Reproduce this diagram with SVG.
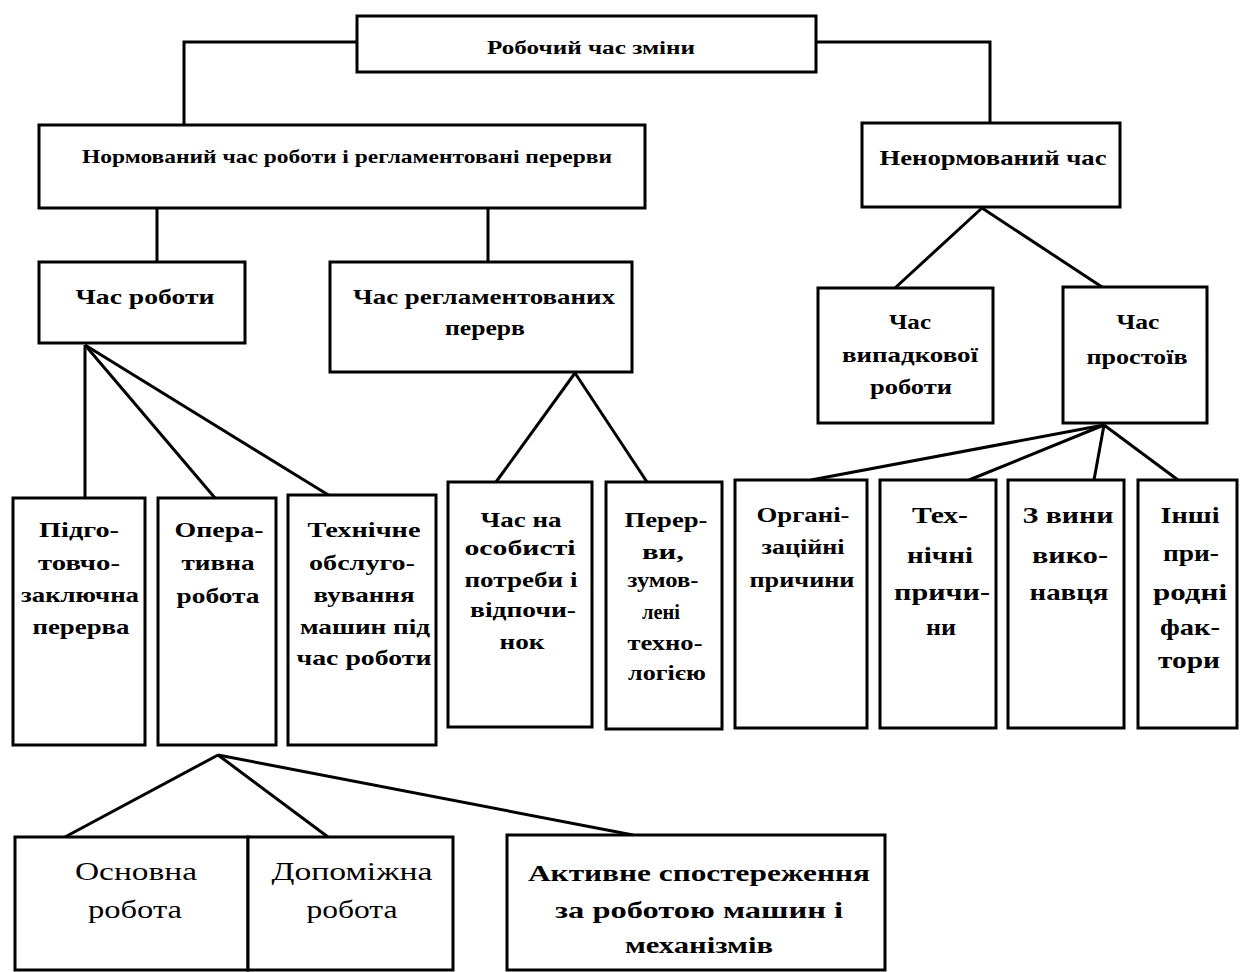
<svg xmlns="http://www.w3.org/2000/svg" width="1248" height="972" viewBox="0 0 1248 972">
<style>
rect.b{fill:#fff;stroke:#000;stroke-width:3}
.c line,.c polyline{stroke:#000;stroke-width:3;fill:none}
text{font-family:"Liberation Serif","Times New Roman",serif;font-weight:bold;fill:#000;text-anchor:middle}
.s19{font-size:19px}.s21{font-size:21px}.s22{font-size:22px}.s20{font-size:20px}.s23{font-size:23px}.s25{font-size:25px;font-weight:normal}.s24{font-size:24px}
</style>
<rect width="1248" height="972" fill="#fff"/>
<g class="c" id="connectors">
<polyline points="357,42 184,42 184,125"/>
<polyline points="816,42 990,42 990,123"/>
<line x1="157" y1="208" x2="157" y2="262"/>
<line x1="488" y1="208" x2="488" y2="262"/>
<line x1="982" y1="208" x2="895" y2="288"/>
<line x1="982" y1="208" x2="1102" y2="287"/>
<line x1="85" y1="345" x2="85" y2="498"/>
<line x1="85" y1="345" x2="215" y2="498"/>
<line x1="85" y1="345" x2="330" y2="496"/>
<line x1="575" y1="373" x2="496" y2="482"/>
<line x1="575" y1="373" x2="647" y2="482"/>
<line x1="1104" y1="425" x2="811" y2="480"/>
<line x1="1104" y1="425" x2="969" y2="480"/>
<line x1="1104" y1="425" x2="1094" y2="480"/>
<line x1="1104" y1="425" x2="1178" y2="480"/>
<line x1="218" y1="755" x2="65" y2="837"/>
<line x1="218" y1="755" x2="328" y2="837"/>
<line x1="218" y1="755" x2="633" y2="835"/>
</g>
<g id="n-shift"><rect class="b" x="357" y="16" width="459" height="56"/><text class="s19" x="591" y="54" textLength="208" lengthAdjust="spacingAndGlyphs">Робочий час зміни</text></g>
<g id="n-norm"><rect class="b" x="39" y="125" width="606" height="83"/><text class="s19" x="347" y="163" textLength="530" lengthAdjust="spacingAndGlyphs">Нормований час роботи і регламентовані перерви</text></g>
<g id="n-unnorm"><rect class="b" x="862" y="123" width="258" height="84"/><text class="s21" x="993" y="165" textLength="227" lengthAdjust="spacingAndGlyphs">Ненормований час</text></g>
<g id="n-work"><rect class="b" x="39" y="262" width="206" height="81"/><text class="s21" x="145" y="304" textLength="139" lengthAdjust="spacingAndGlyphs">Час роботи</text></g>
<g id="n-breaks"><rect class="b" x="330" y="262" width="302" height="110"/><text class="s21" x="484" y="304" textLength="262" lengthAdjust="spacingAndGlyphs">Час регламентованих</text><text class="s21" x="485" y="335" textLength="80" lengthAdjust="spacingAndGlyphs">перерв</text></g>
<g id="n-random"><rect class="b" x="818" y="288" width="175" height="135"/><text class="s21" x="910" y="329" textLength="42" lengthAdjust="spacingAndGlyphs">Час</text><text class="s21" x="910" y="362" textLength="136" lengthAdjust="spacingAndGlyphs">випадкової</text><text class="s21" x="911" y="394" textLength="82" lengthAdjust="spacingAndGlyphs">роботи</text></g>
<g id="n-idle"><rect class="b" x="1063" y="287" width="144" height="136"/><text class="s21" x="1138" y="329" textLength="43" lengthAdjust="spacingAndGlyphs">Час</text><text class="s21" x="1137" y="364" textLength="101" lengthAdjust="spacingAndGlyphs">простоїв</text></g>
<g id="n-prep"><rect class="b" x="13" y="498" width="132" height="247"/><text class="s22" x="79" y="537" textLength="80" lengthAdjust="spacingAndGlyphs">Підго-</text><text class="s22" x="79" y="570" textLength="82" lengthAdjust="spacingAndGlyphs">товчо-</text><text class="s22" x="80" y="602" textLength="118" lengthAdjust="spacingAndGlyphs">заключна</text><text class="s22" x="81" y="634" textLength="97" lengthAdjust="spacingAndGlyphs">перерва</text></g>
<g id="n-oper"><rect class="b" x="158" y="498" width="118" height="247"/><text class="s22" x="219" y="537" textLength="89" lengthAdjust="spacingAndGlyphs">Опера-</text><text class="s22" x="218" y="570" textLength="73" lengthAdjust="spacingAndGlyphs">тивна</text><text class="s22" x="218" y="603" textLength="83" lengthAdjust="spacingAndGlyphs">робота</text></g>
<g id="n-tech"><rect class="b" x="288" y="495" width="148" height="250"/><text class="s22" x="364" y="537" textLength="113" lengthAdjust="spacingAndGlyphs">Технічне</text><text class="s22" x="362" y="570" textLength="106" lengthAdjust="spacingAndGlyphs">обслуго-</text><text class="s22" x="364" y="602" textLength="101" lengthAdjust="spacingAndGlyphs">вування</text><text class="s22" x="365" y="634" textLength="130" lengthAdjust="spacingAndGlyphs">машин під</text><text class="s22" x="364" y="665" textLength="135" lengthAdjust="spacingAndGlyphs">час роботи</text></g>
<g id="n-personal"><rect class="b" x="448" y="482" width="144" height="245"/><text class="s22" x="521" y="527" textLength="81" lengthAdjust="spacingAndGlyphs">Час на</text><text class="s22" x="520" y="555" textLength="111" lengthAdjust="spacingAndGlyphs">особисті</text><text class="s22" x="521" y="587" textLength="113" lengthAdjust="spacingAndGlyphs">потреби і</text><text class="s22" x="523" y="617" textLength="106" lengthAdjust="spacingAndGlyphs">відпочи-</text><text class="s22" x="522" y="649" textLength="45" lengthAdjust="spacingAndGlyphs">нок</text></g>
<g id="n-techbreak"><rect class="b" x="606" y="482" width="116" height="247"/><text class="s22" x="666" y="527" textLength="83" lengthAdjust="spacingAndGlyphs">Перер-</text><text class="s22" x="663" y="559" textLength="42" lengthAdjust="spacingAndGlyphs">ви,</text><text class="s22" x="663" y="587" textLength="71" lengthAdjust="spacingAndGlyphs">зумов-</text><text class="s22" x="661" y="619" textLength="38" lengthAdjust="spacingAndGlyphs">лені</text><text class="s22" x="665" y="650" textLength="75" lengthAdjust="spacingAndGlyphs">техно-</text><text class="s22" x="667" y="680" textLength="78" lengthAdjust="spacingAndGlyphs">логією</text></g>
<g id="n-org"><rect class="b" x="735" y="480" width="132" height="248"/><text class="s20" x="803" y="522" textLength="93" lengthAdjust="spacingAndGlyphs">Органі-</text><text class="s20" x="803" y="554" textLength="83" lengthAdjust="spacingAndGlyphs">заційні</text><text class="s20" x="802" y="587" textLength="105" lengthAdjust="spacingAndGlyphs">причини</text></g>
<g id="n-techcause"><rect class="b" x="880" y="480" width="116" height="248"/><text class="s23" x="940" y="523" textLength="56" lengthAdjust="spacingAndGlyphs">Тех-</text><text class="s23" x="940" y="563" textLength="66" lengthAdjust="spacingAndGlyphs">нічні</text><text class="s23" x="942" y="600" textLength="96" lengthAdjust="spacingAndGlyphs">причи-</text><text class="s23" x="941" y="635" textLength="30" lengthAdjust="spacingAndGlyphs">ни</text></g>
<g id="n-worker"><rect class="b" x="1008" y="480" width="116" height="248"/><text class="s23" x="1068" y="523" textLength="91" lengthAdjust="spacingAndGlyphs">З вини</text><text class="s23" x="1070" y="563" textLength="76" lengthAdjust="spacingAndGlyphs">вико-</text><text class="s23" x="1069" y="600" textLength="79" lengthAdjust="spacingAndGlyphs">навця</text></g>
<g id="n-nature"><rect class="b" x="1138" y="480" width="99" height="248"/><text class="s23" x="1190" y="523" textLength="59" lengthAdjust="spacingAndGlyphs">Інші</text><text class="s23" x="1191" y="561" textLength="56" lengthAdjust="spacingAndGlyphs">при-</text><text class="s23" x="1190" y="600" textLength="74" lengthAdjust="spacingAndGlyphs">родні</text><text class="s23" x="1190" y="635" textLength="60" lengthAdjust="spacingAndGlyphs">фак-</text><text class="s23" x="1189" y="668" textLength="62" lengthAdjust="spacingAndGlyphs">тори</text></g>
<g id="n-main"><rect class="b" x="15" y="837" width="233" height="133"/><text class="s25" x="136" y="880" textLength="122" lengthAdjust="spacingAndGlyphs">Основна</text><text class="s25" x="135" y="918" textLength="94" lengthAdjust="spacingAndGlyphs">робота</text></g>
<g id="n-aux"><rect class="b" x="248" y="837" width="205" height="133"/><text class="s25" x="352" y="880" textLength="161" lengthAdjust="spacingAndGlyphs">Допоміжна</text><text class="s25" x="352" y="918" textLength="91" lengthAdjust="spacingAndGlyphs">робота</text></g>
<g id="n-active"><rect class="b" x="507" y="835" width="378" height="135"/><text class="s24" x="699" y="881" textLength="342" lengthAdjust="spacingAndGlyphs">Активне спостереження</text><text class="s24" x="699" y="918" textLength="288" lengthAdjust="spacingAndGlyphs">за роботою машин і</text><text class="s24" x="699" y="953" textLength="148" lengthAdjust="spacingAndGlyphs">механізмів</text></g>
</svg>
